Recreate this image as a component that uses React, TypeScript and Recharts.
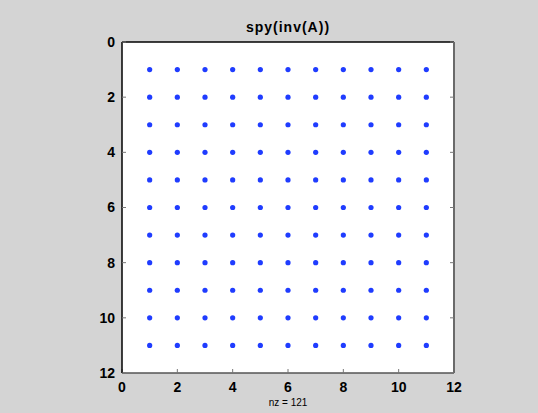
import React from "react";
import { ScatterChart, Scatter, XAxis, YAxis, CartesianGrid } from "recharts";

const rowIndices = [1, 2, 3, 4, 5, 6, 7, 8, 9, 10, 11];
const colIndices = [1, 2, 3, 4, 5, 6, 7, 8, 9, 10, 11];
const axisTicks = [0, 2, 4, 6, 8, 10, 12];
const titleText = "spy(inv(A))";
const nzLabel = "nz = 121";

const points = rowIndices.flatMap((r) => colIndices.map((c) => ({ col: c, row: r })));

const FONT = "'Liberation Sans', Arial, Helvetica, sans-serif";
const tickStyle = { fontSize: 14, fontWeight: 700, fill: "#000", fontFamily: FONT };

const Dot = (props: any) => {
  const { cx, cy } = props;
  if (cx == null || cy == null) return null;
  return <circle cx={cx} cy={cy} r={2.6} fill="#1f3cff" />;
};

export default function App() {
  return (
    <div
      style={{
        position: "absolute",
        left: 0,
        top: 0,
        width: 538,
        height: 413,
        background: "#d4d4d4",
        fontFamily: FONT,
      }}
    >
      <div
        style={{
          position: "absolute",
          left: 0,
          width: 576,
          top: 19,
          textAlign: "center",
          fontSize: 14,
          fontWeight: 700,
          letterSpacing: 1,
          lineHeight: "16px",
          color: "#000",
        }}
      >
        {titleText}
      </div>
      <ScatterChart
        width={538}
        height={413}
        margin={{ top: 41, right: 83, bottom: 39, left: 121 }}
        style={{ position: "absolute", left: 0, top: 0 }}
      >
        <CartesianGrid xAxisId="b" yAxisId="l" fill="#ffffff" stroke="none" horizontal={false} vertical={false} />
        <XAxis
          xAxisId="b"
          orientation="bottom"
          type="number"
          dataKey="col"
          domain={[0, 12]}
          ticks={axisTicks}
          interval={0}
          allowDataOverflow
          height={1}
          tickSize={-4}
          tickMargin={13}
          axisLine={{ stroke: "#555", strokeWidth: 1.5 }}
          tickLine={{ stroke: "#777" }}
          tick={tickStyle}
        />
        <XAxis
          xAxisId="t"
          orientation="top"
          type="number"
          domain={[0, 12]}
          ticks={axisTicks}
          interval={0}
          allowDataOverflow
          height={1}
          tickSize={-4}
          tickFormatter={() => ""}
          axisLine={{ stroke: "#000", strokeWidth: 1.5 }}
          tickLine={{ stroke: "#777" }}
        />
        <YAxis
          yAxisId="l"
          orientation="left"
          type="number"
          dataKey="row"
          domain={[0, 12]}
          reversed
          ticks={axisTicks}
          interval={0}
          allowDataOverflow
          width={1}
          tickSize={-4}
          tickMargin={11}
          axisLine={{ stroke: "#000", strokeWidth: 1.5 }}
          tickLine={{ stroke: "#777" }}
          tick={tickStyle}
        />
        <YAxis
          yAxisId="r"
          orientation="right"
          type="number"
          domain={[0, 12]}
          reversed
          ticks={axisTicks}
          interval={0}
          allowDataOverflow
          width={1}
          tickSize={-4}
          tickFormatter={() => ""}
          axisLine={{ stroke: "#6a6a6a", strokeWidth: 2 }}
          tickLine={{ stroke: "#777" }}
        />
        <Scatter
          xAxisId="b"
          yAxisId="l"
          data={points}
          shape={<Dot />}
          isAnimationActive={false}
        />
      </ScatterChart>
      <div
        style={{
          position: "absolute",
          left: 0,
          width: 576,
          top: 397,
          textAlign: "center",
          fontSize: 10,
          lineHeight: "12px",
          color: "#000",
        }}
      >
        {nzLabel}
      </div>
    </div>
  );
}
